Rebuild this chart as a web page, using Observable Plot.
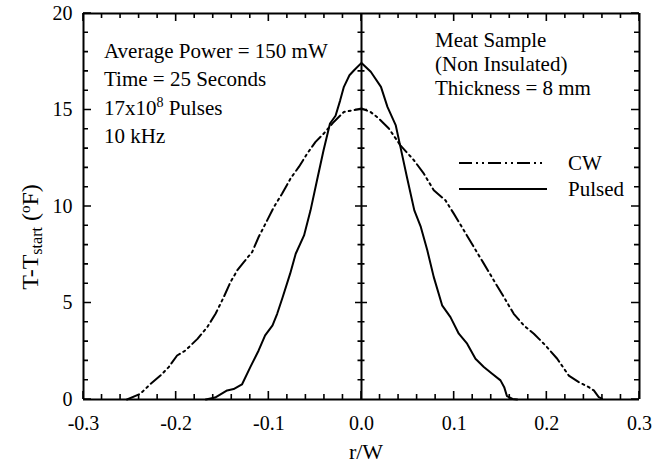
<!DOCTYPE html>
<html>
<head>
<meta charset="utf-8">
<script src="https://cdn.jsdelivr.net/npm/d3@7"></script>
<script src="https://cdn.jsdelivr.net/npm/@observablehq/plot@0.6"></script>
<style>
  html, body { margin: 0; padding: 0; background: #fff; }
  #chart svg { display: block; }
</style>
</head>
<body>
<div id="chart"></div>
<script>
// ---- data ----
const pulsedX = [-0.168, -0.158, -0.145, -0.138, -0.129, -0.120, -0.111, -0.104, -0.096, -0.091, -0.085, -0.077, -0.071, -0.062, -0.055, -0.048, -0.041, -0.034, -0.028, -0.023, -0.019, -0.013, -0.008, 0.000, 0.010, 0.021, 0.028, 0.037, 0.042, 0.049, 0.057, 0.064, 0.071, 0.078, 0.087, 0.096, 0.105, 0.114, 0.123, 0.132, 0.141, 0.150, 0.154, 0.157, 0.163, 0.168];
const pulsedT = [0.00, 0.10, 0.47, 0.54, 0.78, 1.68, 2.54, 3.32, 3.84, 4.44, 5.31, 6.52, 7.55, 8.50, 9.80, 11.36, 12.90, 14.30, 14.70, 15.50, 16.20, 16.80, 17.06, 17.44, 16.98, 16.20, 15.16, 14.20, 13.09, 11.53, 9.80, 8.94, 7.73, 6.34, 4.88, 4.27, 3.41, 2.89, 2.11, 1.68, 1.33, 0.99, 0.64, 0.17, 0.03, 0.00];
const cwX = [-0.253, -0.2385, -0.2277, -0.217, -0.208, -0.199, -0.190, -0.177, -0.1665, -0.1575, -0.1486, -0.1414, -0.1341, -0.127, -0.118, -0.111, -0.1018, -0.0946, -0.0856, -0.0766, -0.0676, -0.0586, -0.0496, -0.0407, -0.0299, -0.019, -0.0083, 0.000, 0.0097, 0.0187, 0.0295, 0.042, 0.0565, 0.0673, 0.078, 0.0906, 0.0996, 0.1104, 0.1212, 0.132, 0.1428, 0.1536, 0.1643, 0.1751, 0.186, 0.1986, 0.2112, 0.2237, 0.2345, 0.2453, 0.2507, 0.256, 0.2615];
const cwT = [0.00, 0.30, 0.81, 1.24, 1.68, 2.28, 2.54, 3.14, 3.75, 4.44, 5.31, 6.08, 6.69, 7.12, 7.64, 8.42, 9.28, 9.97, 10.67, 11.45, 12.05, 12.74, 13.35, 13.78, 14.38, 14.90, 14.99, 15.08, 14.90, 14.56, 14.04, 13.17, 12.40, 11.70, 10.84, 10.32, 9.63, 8.77, 7.90, 7.04, 6.17, 5.31, 4.44, 3.84, 3.41, 2.80, 2.11, 1.24, 0.90, 0.64, 0.47, 0.12, 0.00];

const seriesNames = ["CW", "Pulsed"];
const xTicks = [-0.3, -0.2, -0.1, 0.0, 0.1, 0.2, 0.3];
const xTickLabels = ["-0.3", "-0.2", "-0.1", "0.0", "0.1", "0.2", "0.3"];
const yTicks = [0, 5, 10, 15, 20];
const yTickLabels = ["0", "5", "10", "15", "20"];
const xMinorTicks = d3.range(-15, 16).map(i => +(i * 0.02).toFixed(2));
const yMinorTicks = d3.range(0, 21);
const yCenterMinor = yMinorTicks.filter(v => v % 5 !== 0);
const yCenterMajor = [5, 10, 15];
const xDomain = [-0.3, 0.3];
const yDomain = [0, 20];

const annoLeft = ["Average Power = 150 mW", "Time = 25 Seconds", "17x10|8| Pulses", "10 kHz"];
const annoRight = ["Meat Sample", "(Non Insulated)", "Thickness = 8 mm"];

const pulsed = pulsedX.map((x, i) => ({x, y: pulsedT[i]}));
const cw = cwX.map((x, i) => ({x, y: cwT[i]}));

const FONT = "'Liberation Serif', 'Times New Roman', Times, serif";
const CW_DASH = "13,4,2,4,2,4";
const INK = "#000";

const fmtX = d => xTickLabels[xTicks.findIndex(t => Math.abs(t - d) < 1e-9)];
const fmtY = d => yTickLabels[yTicks.indexOf(d)];

const plot = Plot.plot({
  width: 669,
  height: 465,
  marginLeft: 83,
  marginRight: 30,
  marginTop: 13,
  marginBottom: 66,
  x: {domain: xDomain},
  y: {domain: yDomain},
  marks: [
    // tick labels
    Plot.axisX(xTicks, {anchor: "bottom", tickSize: 0, tickPadding: 16, tickFormat: fmtX, fontSize: 20, fill: INK,
      fontFamily: FONT, label: null}),
    Plot.axisY(yTicks, {anchor: "left", tickSize: 0, tickPadding: 11, tickFormat: fmtY, fontSize: 20, fill: INK,
      fontFamily: FONT, label: null}),
    // frame edges and centre line as rules
    Plot.ruleX([xDomain[0], 0, xDomain[1]], {stroke: INK, strokeWidth: 2}),
    Plot.ruleY(yDomain, {stroke: INK, strokeWidth: 2}),
    // curves
    Plot.line(cw, {x: "x", y: "y", stroke: INK, strokeWidth: 2, strokeDasharray: CW_DASH}),
    Plot.line(pulsed, {x: "x", y: "y", stroke: INK, strokeWidth: 2})
  ]
});

document.getElementById("chart").appendChild(plot);

// ---- inward ticks and centre-line crosses, positioned through Plot's own scales ----
const sx = plot.scale("x"), sy = plot.scale("y");
const X = v => sx.apply(v), Y = v => sy.apply(v);
const svg = d3.select(plot).attr("font-family", FONT);
const x0 = X(xDomain[0]), x1 = X(xDomain[1]), y0 = Y(yDomain[0]), y1 = Y(yDomain[1]);
let d = "";
xMinorTicks.forEach(v => {
  const len = xTicks.some(t => Math.abs(t - v) < 1e-9) ? 8 : 5;
  d += `M${X(v)},${y0}v${-len}M${X(v)},${y1}v${len}`;
});
yMinorTicks.forEach(v => {
  const len = yTicks.includes(v) ? 8 : 5;
  d += `M${x0},${Y(v)}h${len}M${x1},${Y(v)}h${-len}`;
});
yCenterMinor.forEach(v => { d += `M${X(0) - 3.5},${Y(v)}h7`; });
yCenterMajor.forEach(v => { d += `M${X(0) - 6},${Y(v)}h12`; });
svg.append("path").attr("d", d).attr("fill", "none").attr("stroke", INK).attr("stroke-width", 1.6);

// ---- annotations, legend and axis labels ----
const g = svg.append("g").attr("font-family", FONT).attr("fill", INK).attr("text-anchor", "start");

function richText(sel, str) {
  const parts = str.split("|");
  parts.forEach((p, i) => {
    const t = sel.append("tspan").text(p);
    if (i % 2 === 1) t.attr("baseline-shift", "55%").attr("font-size", 14);
  });
}

const leftBase = [58, 86, 115, 143];
annoLeft.forEach((s, i) => {
  const t = g.append("text").attr("x", 104).attr("y", leftBase[i]).attr("font-size", 21).attr("text-anchor", "start");
  richText(t, s);
});
const rightBase = [47, 71, 95];
annoRight.forEach((s, i) => {
  g.append("text").attr("x", 435).attr("y", rightBase[i]).attr("font-size", 21).attr("text-anchor", "start").text(s);
});

// legend
const legY = [163, 189];
const legLen = [84, 88];
seriesNames.forEach((name, i) => {
  g.append("line").attr("x1", 459).attr("x2", 459 + legLen[i]).attr("y1", legY[i]).attr("y2", legY[i])
    .attr("stroke", INK).attr("stroke-width", 2)
    .attr("stroke-dasharray", name === "CW" ? CW_DASH : null);
  g.append("text").attr("x", 568).attr("y", legY[i] + 7).attr("font-size", 21).attr("text-anchor", "start").text(name);
});

// x axis label
g.append("text").attr("x", 366).attr("y", 459).attr("font-size", 22).attr("text-anchor", "middle").text("r/W");

// y axis label
const yl = g.append("text")
  .attr("transform", "translate(38,237) rotate(-90)")
  .attr("text-anchor", "middle")
  .attr("font-size", 24);
yl.append("tspan").text("T-T");
yl.append("tspan").text("start").attr("font-size", 16).attr("baseline-shift", "-25%");
yl.append("tspan").text(" (");
yl.append("tspan").text("o").attr("font-size", 15).attr("baseline-shift", "55%");
yl.append("tspan").text("F)");
</script>
</body>
</html>
